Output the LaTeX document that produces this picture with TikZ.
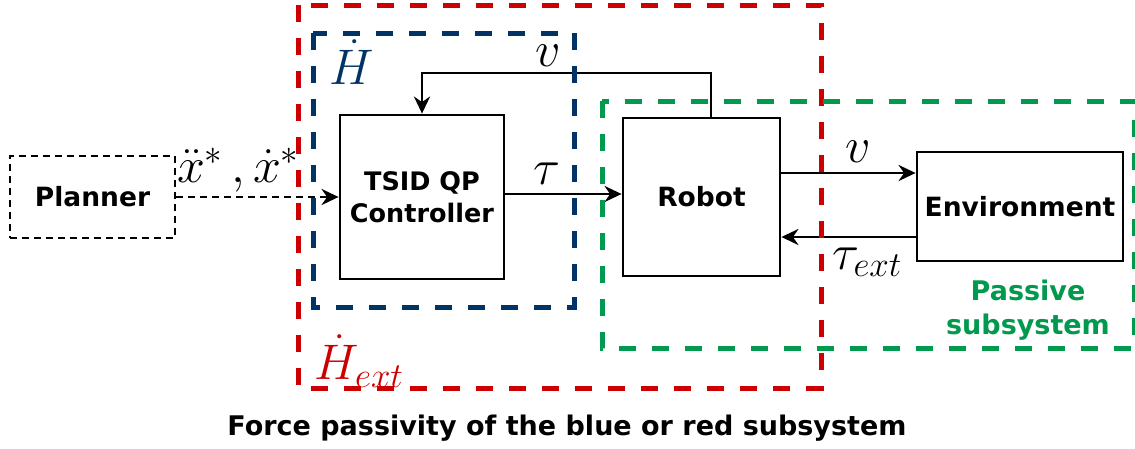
\RequirePackage{fix-cm}
\documentclass[tikz,border=0pt]{standalone}
\usepackage{fontspec}
\newfontfamily\lab{DejaVu Sans}
\usetikzlibrary{arrows.meta,calc}
\definecolor{cred}{HTML}{CC0000}
\definecolor{cblue}{HTML}{003366}
\definecolor{cgreen}{HTML}{00994D}
\begin{document}
\begin{tikzpicture}[x=1pt,y=-1pt,
  box/.style={draw=black, line width=2.8pt, inner sep=0pt, font=\lab\bfseries\fontsize{26.5}{32}\selectfont, align=center},
  arr/.style={line width=2.8pt, -{Stealth[length=17pt,width=16pt,inset=5.5pt]}},
  dasharr/.style={arr, dash pattern=on 7pt off 5pt},
  region/.style={line width=5pt, dash pattern=on 17pt off 16pt},
  mlab/.style={inner sep=0pt, font=\fontsize{50}{54}\selectfont},
  tlab/.style={inner sep=0pt, font=\lab\bfseries\fontsize{27}{34}\selectfont, align=center}]
\useasboundingbox (0,0) rectangle (1135,448);
% blocks
\node[box, dash pattern=on 7pt off 5pt, line width=2.2pt, minimum width=165pt, minimum height=82pt] (planner) at (92.5,197) {Planner};
\node[box, font=\lab\bfseries\fontsize{25.5}{32}\selectfont, minimum width=164pt, minimum height=164pt] (tsid) at (422,197) {TSID QP\\Controller};
\node[box, minimum width=157pt, minimum height=158pt] (robot) at (701.5,197) {Robot};
\node[box, minimum width=206pt, minimum height=109pt] (env) at (1020,206.5) {Environment};
% connectors
\coordinate (fb) at (711,73);
\draw[dasharr] (planner.east) -- (tsid.west);
\draw[arr] ([yshift=3pt]tsid.east) -- ([yshift=3pt]tsid.east -| robot.west);
\draw[arr] (robot.north -| fb) -- (fb) -| (tsid.north);
\draw[arr] ([yshift=24pt]robot.east) -- ([yshift=24pt]robot.east -| env.west);
\draw[arr] ([yshift=-40pt]robot.east -| env.west) -- ([yshift=-40pt]robot.east);
% labels
\node[mlab] (lx) at (238,170) {$\ddot{x}^*\,,\dot{x}^*$};
\node[mlab] (lv1) at (548,56) {$v$};
\node[mlab] (ltau) at (547,174) {$\tau$};
\node[mlab] (lv2) at (858,152) {$v$};
\node[mlab] (ltext) at (867,262) {$\tau_{ext}$};
% regions
\draw[region, cred] (298,5) rectangle (821,388);
\draw[region, cblue] (313,33) rectangle (574,307);
\draw[region, cgreen] (602,101) rectangle (1134,348);
\node[mlab, text=cblue] (lH) at (352,62) {$\dot{H}$};
\node[mlab, text=cred] (lHext) at (359,361) {$\dot{H}_{ext}$};
\node[tlab, text=cgreen] (passive) at (1028,310) {Passive\\subsystem};
\node[tlab] (caption) at (567,428) {Force passivity of the blue or red subsystem};
\end{tikzpicture}
\end{document}
